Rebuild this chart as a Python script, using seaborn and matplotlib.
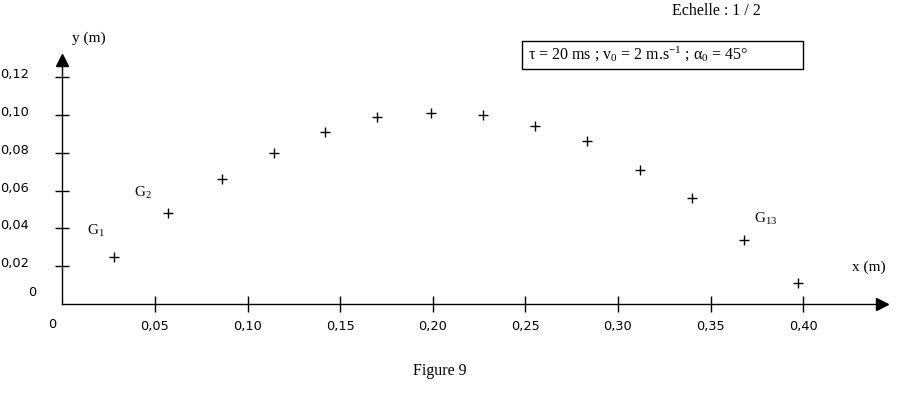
import matplotlib
matplotlib.use("Agg")
import matplotlib.pyplot as plt
import matplotlib.transforms as mtransforms
from matplotlib.patches import Rectangle
import seaborn as sns

# positions of G1 ... G14 (m)
x_pos = [0.028, 0.057, 0.086, 0.114, 0.142, 0.170, 0.199,
         0.227, 0.255, 0.283, 0.312, 0.340, 0.368, 0.397]
y_pos = [0.025, 0.048, 0.066, 0.080, 0.091, 0.099, 0.101,
         0.100, 0.094, 0.086, 0.071, 0.056, 0.034, 0.011]
x_ticks = [0.05, 0.10, 0.15, 0.20, 0.25, 0.30, 0.35, 0.40]
y_ticks = [0.02, 0.04, 0.06, 0.08, 0.10, 0.12]
x_labels = ["0,05", "0,10", "0,15", "0,20", "0,25", "0,30", "0,35", "0,40"]
y_labels = ["0,02", "0,04", "0,06", "0,08", "0,10", "0,12"]

sns.set_style("white")
plt.rcParams["font.family"] = ["Liberation Serif", "DejaVu Serif"]
plt.rcParams["text.color"] = "black"
plt.rcParams["mathtext.fontset"] = "custom"
plt.rcParams["mathtext.rm"] = "Liberation Serif"
plt.rcParams["mathtext.it"] = "Liberation Serif:italic"

W, H = 912, 393
fig = plt.figure(figsize=(W / 100, H / 100), dpi=100)
ax = fig.add_axes([0, 0, 1, 1])
ax.set_facecolor("white")

# pixel -> data mapping from the reference (origin at px (62.4, 304))
x0, sx = 62.4, 1852.0
y0, sy = 304.0, 1890.0
ax.set_xlim(-x0 / sx, (W - x0) / sx)
ax.set_ylim((y0 - H) / sy, y0 / sy)

sns.scatterplot(x=x_pos, y=y_pos, marker="+", color="black", s=55,
                linewidth=1.0, ax=ax, zorder=3)

# axes through the origin with arrows
x_end = (897 - x0) / sx
y_end = (y0 - 52) / sy
for side in ["top", "right"]:
    ax.spines[side].set_visible(False)
ax.spines["left"].set_position(("data", 0))
ax.spines["bottom"].set_position(("data", 0))
ax.spines["left"].set_bounds(0, y_end - 0.004)
ax.spines["bottom"].set_bounds(0, x_end - 0.008)
for side in ["left", "bottom"]:
    ax.spines[side].set_color("black")
    ax.spines[side].set_linewidth(1.0)
ax.plot([x_end - 0.008], [0], marker=">", color="black", markersize=8, clip_on=False)
ax.plot([0], [y_end - 0.004], marker="^", color="black", markersize=8, clip_on=False)

ax.set_xticks(x_ticks)
ax.set_xticklabels(x_labels)
ax.set_yticks(y_ticks)
ax.set_yticklabels(y_labels)
ax.tick_params(axis="x", bottom=True, direction="inout", length=11.5, width=1,
               color="black", pad=5.8, labelsize=9.3, labelcolor="black")
ax.tick_params(axis="y", left=True, direction="inout", length=9.5, width=1,
               color="black", pad=19.5, labelsize=9.3, labelcolor="black")
for lab in ax.get_xticklabels() + ax.get_yticklabels():
    lab.set_family(["DejaVu Sans"])
shift = mtransforms.ScaledTranslation(0, 4 / 100, fig.dpi_scale_trans)
for lab in ax.get_yticklabels():
    lab.set_transform(lab.get_transform() + shift)
ax.grid(False)


def fx(px):
    return px / W


def fy(py):
    return 1 - py / H


fig.text(fx(32), fy(293), "0", ha="center", va="center", fontsize=9.3, family=["DejaVu Sans"])
fig.text(fx(52), fy(325), "0", ha="center", va="center", fontsize=9.3, family=["DejaVu Sans"])
fig.text(fx(89), fy(38), "y (m)", ha="center", va="center", fontsize=11)
fig.text(fx(869), fy(267), "x (m)", ha="center", va="center", fontsize=11)
fig.text(fx(96), fy(231), "G$_1$", ha="center", va="center", fontsize=11)
fig.text(fx(143), fy(193), "G$_2$", ha="center", va="center", fontsize=11)
fig.text(fx(766), fy(219), "G$_{13}$", ha="center", va="center", fontsize=11)
fig.text(fx(716), fy(11), "Echelle : 1 / 2", ha="center", va="center", fontsize=11.5)
fig.text(fx(440), fy(371), "Figure 9", ha="center", va="center", fontsize=11.5)

fig.patches.append(Rectangle((fx(522), fy(69)), fx(803) - fx(522), fy(41) - fy(69),
                             transform=fig.transFigure, fill=False,
                             edgecolor="black", linewidth=1.0))
fig.text(fx(528), fy(54),
         r"$\mathrm{\tau}$ = 20 ms ; v$_0$ = 2 m.s$^{-1}$ ; $\mathrm{\alpha}_0$ = 45°",
         ha="left", va="center", fontsize=11.5)

plt.savefig("out.png", dpi=100)
plt.close(fig)
